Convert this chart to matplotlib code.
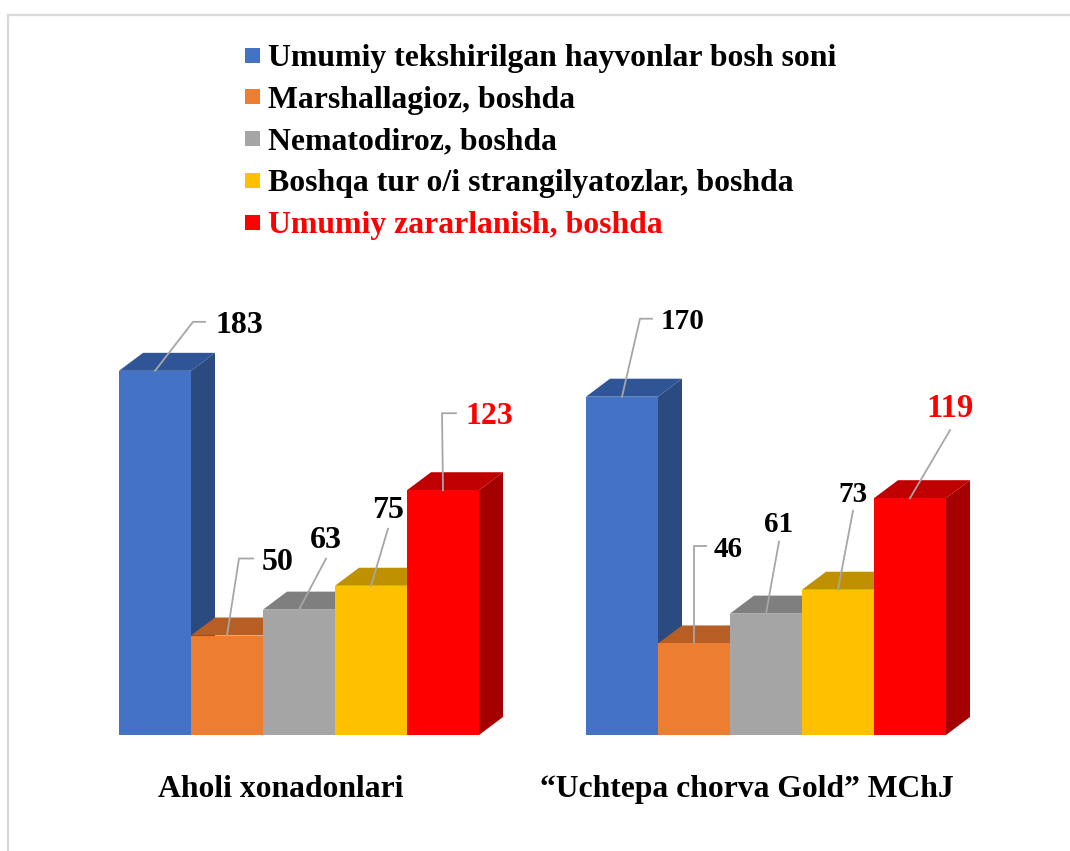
import matplotlib
matplotlib.use('Agg')
import matplotlib.pyplot as plt
from matplotlib.patches import Polygon, Rectangle
from matplotlib.lines import Line2D

# ---------------- data ----------------
categories = ['Aholi xonadonlari', '“Uchtepa chorva Gold” MChJ']
series = ['Umumiy tekshirilgan hayvonlar bosh soni',
          'Marshallagioz, boshda',
          'Nematodiroz, boshda',
          'Boshqa tur o/i strangilyatozlar, boshda',
          'Umumiy zararlanish, boshda']
values_aholi = [183, 50, 63, 75, 123]
values_uchtepa = [170, 46, 61, 73, 119]
group_values = [values_aholi, values_uchtepa]

# ---------------- styles ----------------
front_colors = ['#4472C4', '#ED7D31', '#A5A5A5', '#FFC000', '#FF0000']
top_colors = ['#2F5597', '#B65E24', '#7F7F7F', '#BF9000', '#C00000']
side_colors = ['#2B4A80', '#9E5020', '#6E6E6E', '#A67C00', '#A50000']
legend_text_colors = ['black', 'black', 'black', 'black', '#FF0000']
label_colors = ['black', 'black', 'black', 'black', '#FF0000']
FONT = 'Liberation Serif'

W, H = 1070, 851
BASE_PY = 735          # pixel row of bar base
PX_PER_UNIT = 1.99     # pixels per value unit
BAR_W = 72             # px
DX = 24                # depth offset px
DY_PX = 18             # depth offset px (vertical)
GROUP_X0 = [119, 586]
CAT_CENTER_X = [281, 747]
CAT_PY = 797

# leader-line layout (pixel offsets from front-top center): (dx, dy, hlen, mode, text_gap)
leader_layout = [
    [(38, 49, 12, 'side', 10), (12, 77, 14, 'side', 9), (27, 51, 0, 'top', 11),
     (17, 57, 0, 'top', 11), (-1, 77, 14, 'side', 10)],
    [(18, 78, 12, 'side', 9), (0, 97, 12, 'side', 8), (13, 72, 0, 'top', 10),
     (15, 79, 0, 'top', 9), (40, 68, 0, 'top', 13)],
]
label_sizes = [[23, 23, 23, 23, 23], [21, 21, 21, 21, 23.5]]

fig = plt.figure(figsize=(W / 100, H / 100), dpi=100)
fig.patch.set_facecolor('white')

# overlay axes in pixel coords
pax = fig.add_axes([0, 0, 1, 1])
pax.set_xlim(0, W)
pax.set_ylim(H, 0)
pax.axis('off')

# value axes: x in pixels, y in data units
ax = fig.add_axes([0, 0, 1, 1])
ax.set_xlim(0, W)
ax.set_ylim(-(H - BASE_PY) / PX_PER_UNIT, BASE_PY / PX_PER_UNIT)
ax.axis('off')
ax.patch.set_alpha(0)

DYv = DY_PX / PX_PER_UNIT

z = 2
for g, vals in enumerate(group_values):
    for i, v in enumerate(vals):
        x0 = GROUP_X0[g] + i * BAR_W
        side = Polygon([(x0 + BAR_W, 0), (x0 + BAR_W + DX, DYv),
                        (x0 + BAR_W + DX, v + DYv), (x0 + BAR_W, v)],
                       closed=True, facecolor=side_colors[i], edgecolor='none', zorder=z)
        top = Polygon([(x0, v), (x0 + BAR_W, v), (x0 + BAR_W + DX, v + DYv), (x0 + DX, v + DYv)],
                      closed=True, facecolor=top_colors[i], edgecolor='none', zorder=z + 0.1)
        front = Rectangle((x0, 0), BAR_W, v, facecolor=front_colors[i],
                          edgecolor='none', zorder=z + 0.2)
        ax.add_patch(side)
        ax.add_patch(top)
        ax.add_patch(front)
        z += 1

# data labels with leader lines
for g, vals in enumerate(group_values):
    for i, v in enumerate(vals):
        x0 = GROUP_X0[g] + i * BAR_W
        sx, sy = x0 + BAR_W / 2, v
        dx, dy, hlen, mode, gap = leader_layout[g][i]
        ex, ey = sx + dx, sy + dy / PX_PER_UNIT
        xs = [sx, ex] + ([ex + hlen] if hlen else [])
        ys = [sy, ey] + ([ey] if hlen else [])
        ax.add_line(Line2D(xs, ys, color='#A6A6A6', lw=1.3, zorder=50))
        fs = label_sizes[g][i]
        if mode == 'side':
            ax.text(ex + hlen + gap, ey, str(v), ha='left', va='center_baseline',
                    fontsize=fs, fontweight='bold', family=FONT,
                    color=label_colors[i], zorder=60)
        else:
            ax.text(ex, ey + gap / PX_PER_UNIT, str(v), ha='center', va='baseline',
                    fontsize=fs, fontweight='bold', family=FONT,
                    color=label_colors[i], zorder=60)

# category labels
for g, cat in enumerate(categories):
    pax.text(CAT_CENTER_X[g], CAT_PY, cat, ha='center', va='baseline',
             fontsize=22.8, fontweight='bold', family=FONT, color='black')

# legend
LEG_X = 245
LEG_TEXT_X = 268
LEG_Y0 = 55
LEG_DY = 41.8
MK = 15
for i, name in enumerate(series):
    cy = LEG_Y0 + i * LEG_DY
    pax.add_patch(Rectangle((LEG_X, cy - MK / 2), MK, MK, facecolor=front_colors[i],
                            edgecolor='none'))
    pax.text(LEG_TEXT_X, cy, name, ha='left', va='center_baseline',
             fontsize=22.9, fontweight='bold', family=FONT, color=legend_text_colors[i])

# frame lines (top and left)
pax.add_line(Line2D([7.5, W], [14.5, 14.5], color='#D9D9D9', lw=1.6))
pax.add_line(Line2D([7.5, 7.5], [14.5, H], color='#D9D9D9', lw=1.6))

fig.savefig('out.png', dpi=100, facecolor='white')
